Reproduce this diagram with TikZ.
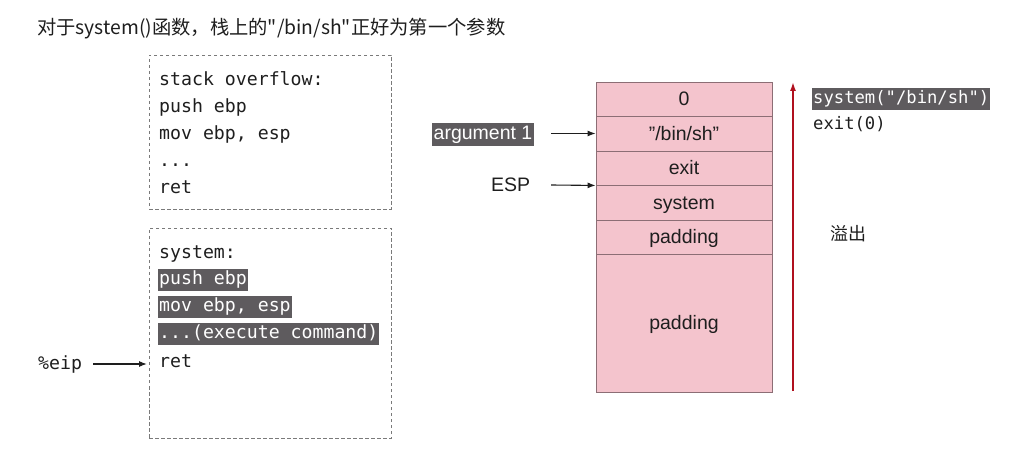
\documentclass[tikz,border=0pt]{standalone}
\usepackage{fontspec}
\setmainfont{Liberation Sans}
\newfontfamily\cjk{Noto Sans CJK SC}
\newfontfamily\monof{DejaVu Sans Mono}
\usetikzlibrary{arrows.meta}
\definecolor{hlgray}{HTML}{5E5B5E}
\definecolor{cellpink}{HTML}{F4C4CD}
\definecolor{cellborder}{HTML}{8C6E75}
\definecolor{dashgray}{HTML}{7A7A7A}
\definecolor{txt}{HTML}{1E1E1E}
\definecolor{redarrow}{HTML}{B0101E}
\begin{document}
\begin{tikzpicture}[x=1pt,y=-1pt,
  code/.style={font=\monof\fontsize{18.2}{18}\selectfont, text=txt, anchor=west, inner xsep=1pt, inner ysep=2pt, text height=13pt, text depth=4.5pt},
  hl/.style={code, fill=hlgray, text=white},
  rcode/.style={code, font=\monof\fontsize{17.2}{18}\selectfont},
  rhl/.style={rcode, fill=hlgray, text=white},
  dbox/.style={draw=dashgray, line width=0.9pt, dash pattern=on 3.5pt off 2.5pt},
  cell/.style={draw=cellborder, fill=cellpink, line width=0.9pt, minimum width=176pt, inner sep=0pt, font=\fontsize{19.5}{20}\selectfont, text=txt, text height=14pt, text depth=0pt},
  lbl/.style={font=\fontsize{19.5}{20}\selectfont, text=txt, inner sep=0pt},
  arr/.style={-{Latex[length=8pt,width=6pt]}, line width=1.1pt, draw=txt},
]
\useasboundingbox (0,0) rectangle (1015,462);

% title
\node[anchor=west, inner sep=0pt, font=\cjk\fontsize{19.3}{20}\selectfont, text=txt] (title) at (37,29) {对于system()函数，栈上的"/bin/sh"正好为第一个参数};

% box 1
\node[dbox, minimum width=242pt, minimum height=154pt, inner sep=0pt] (box1) at (270,132) {};
\node[code] (l1) at (158,81.5) {stack overflow:};
\node[code] (l2) at (158,108.5) {push ebp};
\node[code] (l3) at (158,135.5) {mov ebp, esp};
\node[code] (l4) at (158,162.5) {...};
\node[code] (l5) at (158,189.5) {ret};

% box 2
\node[dbox, minimum width=242pt, minimum height=210pt, inner sep=0pt] (box2) at (270,333) {};
\node[code] (m1) at (158,254) {system:};
\node[hl] (m2) at (158,280) {push ebp};
\node[hl] (m3) at (158,307) {mov ebp, esp};
\node[hl] (m4) at (158,334) {...(execute command)};
\node[code] (m5) at (158,363) {ret};

\node[code] (eip) at (37,365) {\%eip};
\coordinate (eipS) at (93,364);
\coordinate (eipE) at (147,364);
\draw[arr] (eipS) -- (eipE);

% stack
\node[cell, minimum height=34pt] (c1) at (684,99) {0};
\node[cell, minimum height=35pt] (c2) at (684,133.5) {\char34/bin/sh\char34};
\node[cell, minimum height=34pt] (c3) at (684,168) {exit};
\node[cell, minimum height=35pt] (c4) at (684,202.5) {system};
\node[cell, minimum height=34pt] (c5) at (684,237) {padding};
\node[cell, minimum height=138pt] (c6) at (684,323) {padding};

% labels left of stack
\node[lbl, fill=hlgray, text=white, inner xsep=1.5pt, inner ysep=2.5pt, text height=14pt, text depth=4.5pt, anchor=west] (arg) at (432,134.5) {argument 1};
\coordinate (argS) at (551,133.5);
\draw[arr] (argS) -- (c2.west);
\node[lbl, anchor=west, text height=14pt, text depth=0pt] (esp) at (491,185) {ESP};
\coordinate (espS) at (551,185);
\draw[arr] (espS) -- (c3.south west);

% red arrow
\coordinate (rb) at (793,391);
\coordinate (rt) at (793,82);
\draw[-{Latex[length=9pt,width=6pt]}, line width=1.6pt, draw=redarrow] (rb) -- (rt);

% right texts
\node[rhl] (sys) at (812,99) {system("/bin/sh")};
\node[rcode] (ex) at (812,125) {exit(0)};
\node[anchor=west, inner sep=0pt, font=\cjk\fontsize{18}{20}\selectfont, text=txt] (yc) at (830,234) {溢出};
\end{tikzpicture}
\end{document}
